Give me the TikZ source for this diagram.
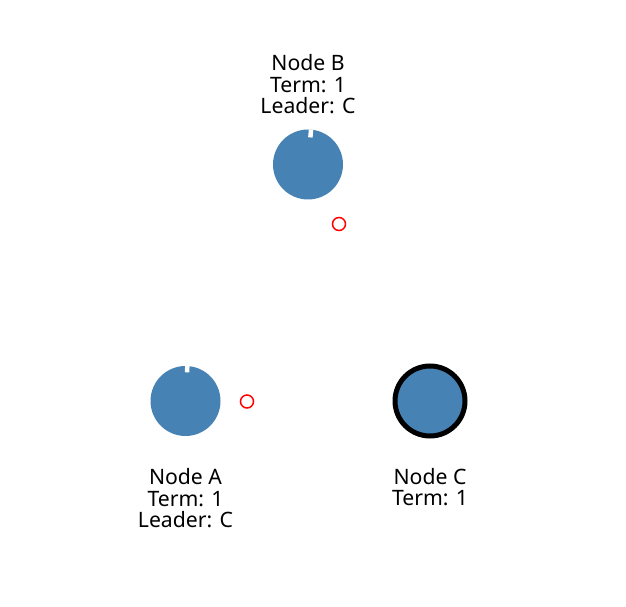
\documentclass[tikz,border=0pt]{standalone}
\usepackage{fontspec}
\setmainfont{Noto Sans}
\usetikzlibrary{positioning}
\definecolor{steelblue}{RGB}{70,130,180}
\begin{document}
\begin{tikzpicture}[x=1pt,y=1pt,node distance=30pt,
    peer node/.style={circle,fill=steelblue,minimum size=70pt,inner sep=0pt},
    leader node/.style={peer node,draw=black,line width=5pt},
    msg node/.style={circle,draw=red,line width=1.5pt,minimum size=13pt,inner sep=0pt},
    label node/.style={align=center,inner sep=0pt,font=\fontsize{21.2}{21.5}\selectfont},
    notch/.style={white,line width=4.5pt}]
                \useasboundingbox (0,0) rectangle (626,606);

                \node[peer node] at (185.5, 205) (a) {};
                \node[peer node] at (308, 441.5) (b) {};
                \node[leader node] at (430, 205) (c) {};

                \node[msg node] at (247, 204.5) (ma) {};
                \node[msg node] at (339, 382) (mb) {};

                % timer marks
                \draw[notch] (a.87) -- ++(267:6.5);
                \draw[notch] (b.85) -- ++(265:8);

                \node[label node, below=32pt of a] (la) {Node A\\Term: 1\\Leader: C};
                \node[label node, above=15pt of b] (lb) {Node B\\Term: 1\\Leader: C};
                \node[label node, below=29.5pt of c] (lc) {Node C\\Term: 1};
            \end{tikzpicture}
\end{document}
